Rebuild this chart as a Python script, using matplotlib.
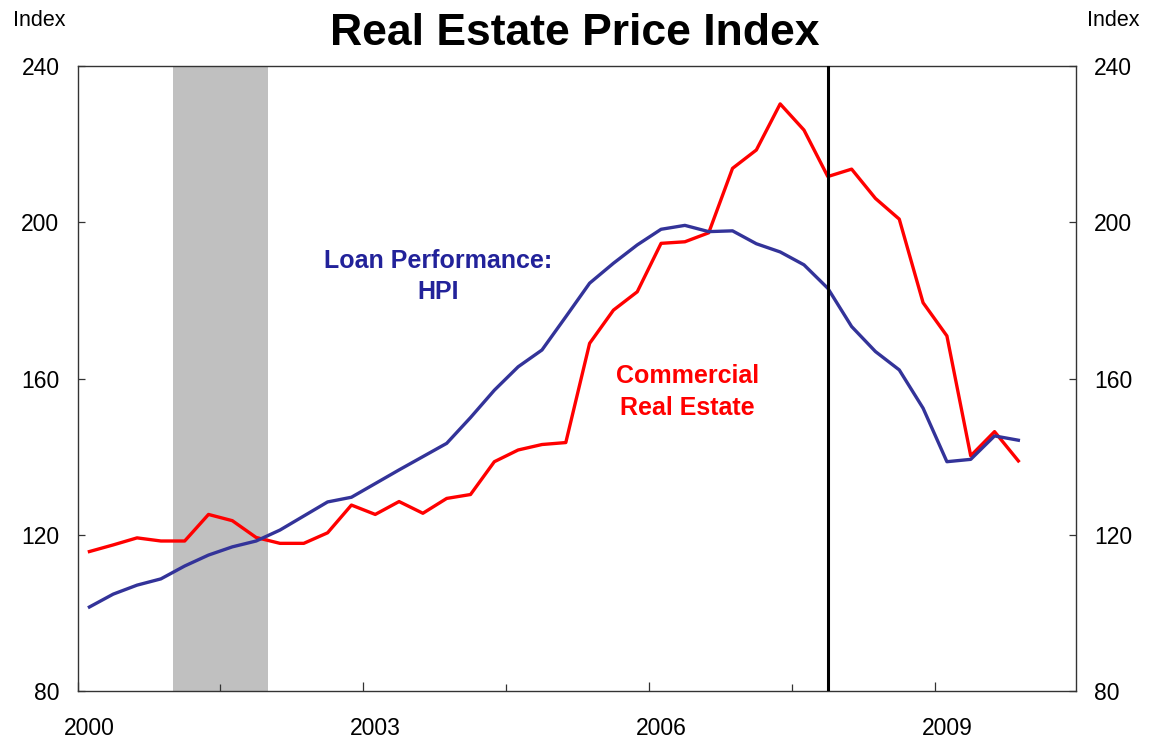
import matplotlib
matplotlib.use("Agg")
import matplotlib.pyplot as plt
import matplotlib.transforms as mtransforms

plt.rcParams['font.family'] = ['Liberation Sans', 'DejaVu Sans']

# ---- data (quarterly, 2000Q1 .. 2009Q4) ----
start_year = 2000
n_quarters = 40
hpi = [101.5, 104.8, 107.1, 108.7, 112.0, 114.8, 116.9, 118.4,
       121.2, 124.8, 128.4, 129.6, 133.1, 136.6, 140.0, 143.4,
       150.0, 157.0, 163.0, 167.3, 175.8, 184.4, 189.5, 194.2,
       198.2, 199.2, 197.6, 197.8, 194.5, 192.4, 189.1, 183.1,
       173.3, 166.9, 162.2, 152.4, 138.7, 139.3, 145.3, 144.2]
cre = [115.7, 117.4, 119.2, 118.4, 118.4, 125.2, 123.6, 119.3,
       117.8, 117.8, 120.5, 127.6, 125.2, 128.5, 125.5, 129.3,
       130.3, 138.7, 141.7, 143.1, 143.6, 169.0, 177.5, 182.2,
       194.6, 195.0, 197.3, 213.8, 218.5, 230.3, 223.6, 211.7,
       213.6, 206.1, 200.8, 179.4, 170.9, 140.2, 146.4, 138.9]
recession = (2001.0, 2002.0)
event_line = 2007.875
year_labels = [2000, 2003, 2006, 2009]
minor_ticks = [2001.5, 2004.5, 2007.5]
y_ticks = [80, 120, 160, 200, 240]

dates = [start_year + (i + 0.5) / 4 for i in range(n_quarters)]

fig = plt.figure(figsize=(11.5, 7.42), dpi=100)
ax = fig.add_axes([77.5 / 1150, 51 / 742, (1076 - 77.5) / 1150, (691 - 66) / 742])

ax.axvspan(recession[0], recession[1], color='#C0C0C0', lw=0, zorder=0)
ax.plot(dates, hpi, color='#333399', lw=2.4, zorder=3, solid_joinstyle='round')
ax.plot(dates, cre, color='#FF0000', lw=2.4, zorder=2, solid_joinstyle='round')
ax.axvline(event_line, color='black', lw=2.2, zorder=4)

ax.set_xlim(2000, 2010.48)
ax.set_ylim(80, 240)

spine_c = '#333333'
for s in ax.spines.values():
    s.set_color(spine_c)
    s.set_linewidth(1.0)

ax.set_yticks(y_ticks)
ax.set_yticklabels([str(v) for v in y_ticks])
ax.tick_params(axis='y', direction='in', length=5, width=0.9, color=spine_c,
               left=True, right=True, labelleft=True, labelright=True,
               labelsize=16.5, pad=13, labelcolor='black')

ax.set_xticks(year_labels)
ax.set_xticklabels([])
ax.set_xticks(minor_ticks, minor=True)
ax.tick_params(axis='x', which='major', direction='in', length=6.5, width=0.9, color=spine_c)
ax.tick_params(axis='x', which='minor', direction='in', length=5, width=0.9, color=spine_c)

trans = mtransforms.blended_transform_factory(ax.transData, fig.transFigure)
for yr in year_labels:
    ax.text(yr + 0.125, 1 - 735 / 742, str(yr), transform=trans, ha='center',
            va='baseline', fontsize=16.5, clip_on=False)

fig.text(0.5, 1 - 45 / 742, 'Real Estate Price Index', ha='center', va='baseline',
         fontsize=32, fontweight='bold')
fig.text(12.7 / 1150, 1 - 26 / 742, 'Index', ha='left', va='baseline', fontsize=15.5)
fig.text(1086.7 / 1150, 1 - 26 / 742, 'Index', ha='left', va='baseline', fontsize=15.5)

ax.text(2003.79, 186.1, 'Loan Performance:\nHPI', color='#22229A', fontsize=18,
        fontweight='bold', ha='center', va='center', linespacing=1.4)
ax.text(2006.4, 156.5, 'Commercial\nReal Estate', color='#FF0000', fontsize=18,
        fontweight='bold', ha='center', va='center', linespacing=1.4)

fig.savefig('out.png', dpi=100)
